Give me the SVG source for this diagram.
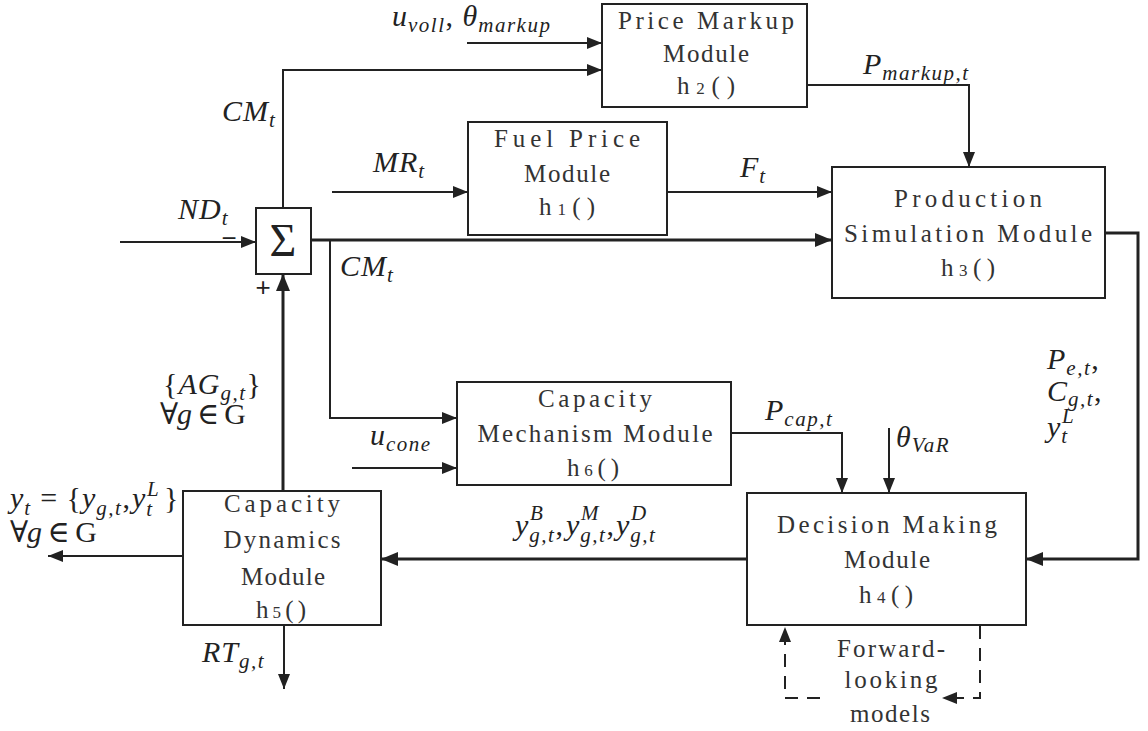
<svg xmlns="http://www.w3.org/2000/svg" width="1148" height="731" viewBox="0 0 1148 731">
<style>
.box{fill:#fff;stroke:#222;stroke-width:2}
.t{font-family:"Liberation Serif","DejaVu Serif",serif;font-size:25px;fill:#333;text-anchor:middle}
.d{font-size:17px}
.m{font-family:"Liberation Serif","DejaVu Serif",serif;font-style:italic;font-size:30px;fill:#222;letter-spacing:1px}
.s{font-family:"Liberation Serif","DejaVu Serif",serif;font-style:italic;font-size:21px;fill:#222;letter-spacing:1.5px}
.r{font-style:normal}
.ln{fill:none;stroke:#222;stroke-width:2}
.th{fill:none;stroke:#222;stroke-width:3}
.da{fill:none;stroke:#222;stroke-width:2;stroke-dasharray:13 9}
</style>
<defs>
<marker id="a" markerUnits="userSpaceOnUse" markerWidth="16" markerHeight="12" refX="15" refY="6" orient="auto"><path d="M0,0 L15,6 L0,12 z" fill="#222"/></marker>
<marker id="b" markerUnits="userSpaceOnUse" markerWidth="18" markerHeight="14" refX="17" refY="7" orient="auto"><path d="M0,0 L17,7 L0,14 z" fill="#222"/></marker>
</defs>
<rect width="1148" height="731" fill="#fff"/>

<g id="connectors">
<path class="ln" d="M467,43 H602" marker-end="url(#a)"/>
<path class="ln" d="M283,208 V70 H602" marker-end="url(#a)"/>
<path class="ln" d="M807,85 H969 V167" marker-end="url(#a)"/>
<path class="ln" d="M332,192 H468" marker-end="url(#a)"/>
<path class="ln" d="M667,192 H832" marker-end="url(#a)"/>
<path class="ln" d="M120,242 H256" marker-end="url(#a)"/>
<path class="th" d="M311,240 H832" marker-end="url(#b)"/>
<path class="ln" d="M330,240 V418 H457" marker-end="url(#a)"/>
<path class="ln" d="M352,468 H457" marker-end="url(#a)"/>
<path class="ln" d="M731,433 H842 V493" marker-end="url(#a)"/>
<path class="ln" d="M889,428 V493" marker-end="url(#a)"/>
<path class="th" d="M1105,233 H1138 V559 H1026" marker-end="url(#b)"/>
<path class="th" d="M747,559 H381" marker-end="url(#b)"/>
<path class="th" d="M283,491 V274" marker-end="url(#b)"/>
<path class="ln" d="M183,556 H48" marker-end="url(#a)"/>
<path class="ln" d="M284,625 V689" marker-end="url(#a)"/>
<path class="da" d="M980,626 V698 H942" marker-end="url(#a)"/>
<path class="da" d="M820,698 H785 V627" marker-end="url(#a)"/>
</g>

<g id="sum">
<rect class="box" x="256" y="208" width="55" height="66"/>
<text x="283" y="256" font-family="Liberation Serif,serif" font-size="46" text-anchor="middle" fill="#222">Σ</text>
<text x="229" y="247" font-family="Liberation Sans,sans-serif" font-size="26" text-anchor="middle" fill="#222">−</text>
<text x="263" y="296" font-family="Liberation Sans,sans-serif" font-size="26" text-anchor="middle" fill="#222">+</text>
</g>

<g id="price-markup">
<rect class="box" x="602" y="4" width="205" height="103"/>
<text class="t" x="706" y="29" textLength="176" lengthAdjust="spacing">Price Markup</text>
<text class="t" x="706" y="62" textLength="86" lengthAdjust="spacing">Module</text>
<text class="t" x="706" y="94" textLength="58" lengthAdjust="spacing">h<tspan class="d">2</tspan>()</text>
</g>

<g id="fuel-price">
<rect class="box" x="468" y="122" width="199" height="113"/>
<text class="t" x="567" y="147" textLength="146" lengthAdjust="spacing">Fuel Price</text>
<text class="t" x="567" y="182" textLength="86" lengthAdjust="spacing">Module</text>
<text class="t" x="567" y="215" textLength="56" lengthAdjust="spacing">h<tspan class="d">1</tspan>()</text>
</g>

<g id="production">
<rect class="box" x="832" y="167" width="273" height="131"/>
<text class="t" x="968" y="207" textLength="148" lengthAdjust="spacing">Production</text>
<text class="t" x="968" y="242" textLength="248" lengthAdjust="spacing">Simulation Module</text>
<text class="t" x="968" y="276" textLength="54" lengthAdjust="spacing">h<tspan class="d">3</tspan>()</text>
</g>

<g id="capacity-mechanism">
<rect class="box" x="457" y="382" width="274" height="103"/>
<text class="t" x="595" y="407" textLength="114" lengthAdjust="spacing">Capacity</text>
<text class="t" x="595" y="442" textLength="235" lengthAdjust="spacing">Mechanism Module</text>
<text class="t" x="593" y="476" textLength="52" lengthAdjust="spacing">h<tspan class="d">6</tspan>()</text>
</g>

<g id="decision">
<rect class="box" x="747" y="493" width="279" height="132"/>
<text class="t" x="887" y="533" textLength="220" lengthAdjust="spacing">Decision Making</text>
<text class="t" x="887" y="568" textLength="86" lengthAdjust="spacing">Module</text>
<text class="t" x="886" y="603" textLength="54" lengthAdjust="spacing">h<tspan class="d">4</tspan>()</text>
</g>

<g id="capacity-dynamics">
<rect class="box" x="183" y="491" width="198" height="134"/>
<text class="t" x="282" y="512" textLength="116" lengthAdjust="spacing">Capacity</text>
<text class="t" x="282" y="548" textLength="117" lengthAdjust="spacing">Dynamics</text>
<text class="t" x="283" y="585" textLength="84" lengthAdjust="spacing">Module</text>
<text class="t" x="281" y="618" textLength="50" lengthAdjust="spacing">h<tspan class="d">5</tspan>()</text>
</g>

<g id="forward-looking">
<text class="t" x="891" y="657" textLength="108" lengthAdjust="spacing">Forward-</text>
<text class="t" x="891" y="688" textLength="93" lengthAdjust="spacing">looking</text>
<text class="t" x="890" y="722" textLength="80" lengthAdjust="spacing">models</text>
</g>

<g id="labels">
<text class="m" x="392" y="26">u<tspan class="s" dy="6" letter-spacing="2">voll</tspan><tspan class="r" dy="-6">, </tspan>θ<tspan class="s" dy="6" letter-spacing="2.5">markup</tspan></text>

<text class="m" x="222" y="121">CM<tspan class="s" dy="6">t</tspan></text>
<text class="m" x="373" y="172">MR<tspan class="s" dy="6">t</tspan></text>
<text class="m" x="740" y="177">F<tspan class="s" dy="6">t</tspan></text>
<text class="m" x="178" y="219" letter-spacing="2">ND<tspan class="s" dy="6">t</tspan></text>
<text class="m" x="340" y="276">CM<tspan class="s" dy="6">t</tspan></text>
<text class="m" x="863" y="74">P<tspan class="s" dy="6" letter-spacing="2">markup,t</tspan></text>

<text class="m" x="1047" y="369">P<tspan class="s" dy="6">e,t</tspan><tspan class="r" dy="-6">,</tspan></text>
<text class="m" x="1047" y="401">C<tspan class="s" dy="5">g,t</tspan><tspan class="r" dy="-5">,</tspan></text>
<text class="m" x="1047" y="437">y<tspan class="s" dy="6">t</tspan></text>
<text class="s" x="1062" y="423">L</text>

<text class="m" x="765" y="420">P<tspan class="s" dy="6">cap,t</tspan></text>
<text class="m" x="896" y="447">θ<tspan class="s" dy="5">VaR</tspan></text>
<text class="m" x="370" y="445">u<tspan class="s" dy="6">cone</tspan></text>

<text class="m" x="163" y="394"><tspan class="r">{</tspan>AG<tspan class="s" dy="6">g,t</tspan><tspan class="r" dy="-6">}</tspan></text>
<text class="m" x="160" y="424" textLength="87" lengthAdjust="spacing"><tspan class="r">∀</tspan>g<tspan class="r"> ∈ G</tspan></text>

<text class="m" x="10" y="508">y<tspan class="s" dy="7">t</tspan><tspan class="r" dy="-7"> = {</tspan>y<tspan class="s" dy="7">g,t</tspan><tspan class="r" dy="-7">,</tspan></text>
<text class="m" x="132" y="508">y<tspan class="s" dy="8">t</tspan></text>
<text class="s" x="147" y="496">L</text>
<text class="m r" x="164" y="508">}</text>
<text class="m" x="10" y="542" textLength="88" lengthAdjust="spacing"><tspan class="r">∀</tspan>g<tspan class="r"> ∈ G</tspan></text>

<text class="m" x="515" y="535">y<tspan class="s" dy="7">g,t</tspan><tspan class="r" dy="-7">,</tspan></text>
<text class="s" x="530" y="520">B</text>
<text class="m" x="566" y="535">y<tspan class="s" dy="7">g,t</tspan><tspan class="r" dy="-7">,</tspan></text>
<text class="s" x="581" y="520">M</text>
<text class="m" x="616" y="535">y<tspan class="s" dy="7">g,t</tspan></text>
<text class="s" x="631" y="520">D</text>

<text class="m" x="202" y="662">RT<tspan class="s" dy="6">g,t</tspan></text>
</g>
</svg>
